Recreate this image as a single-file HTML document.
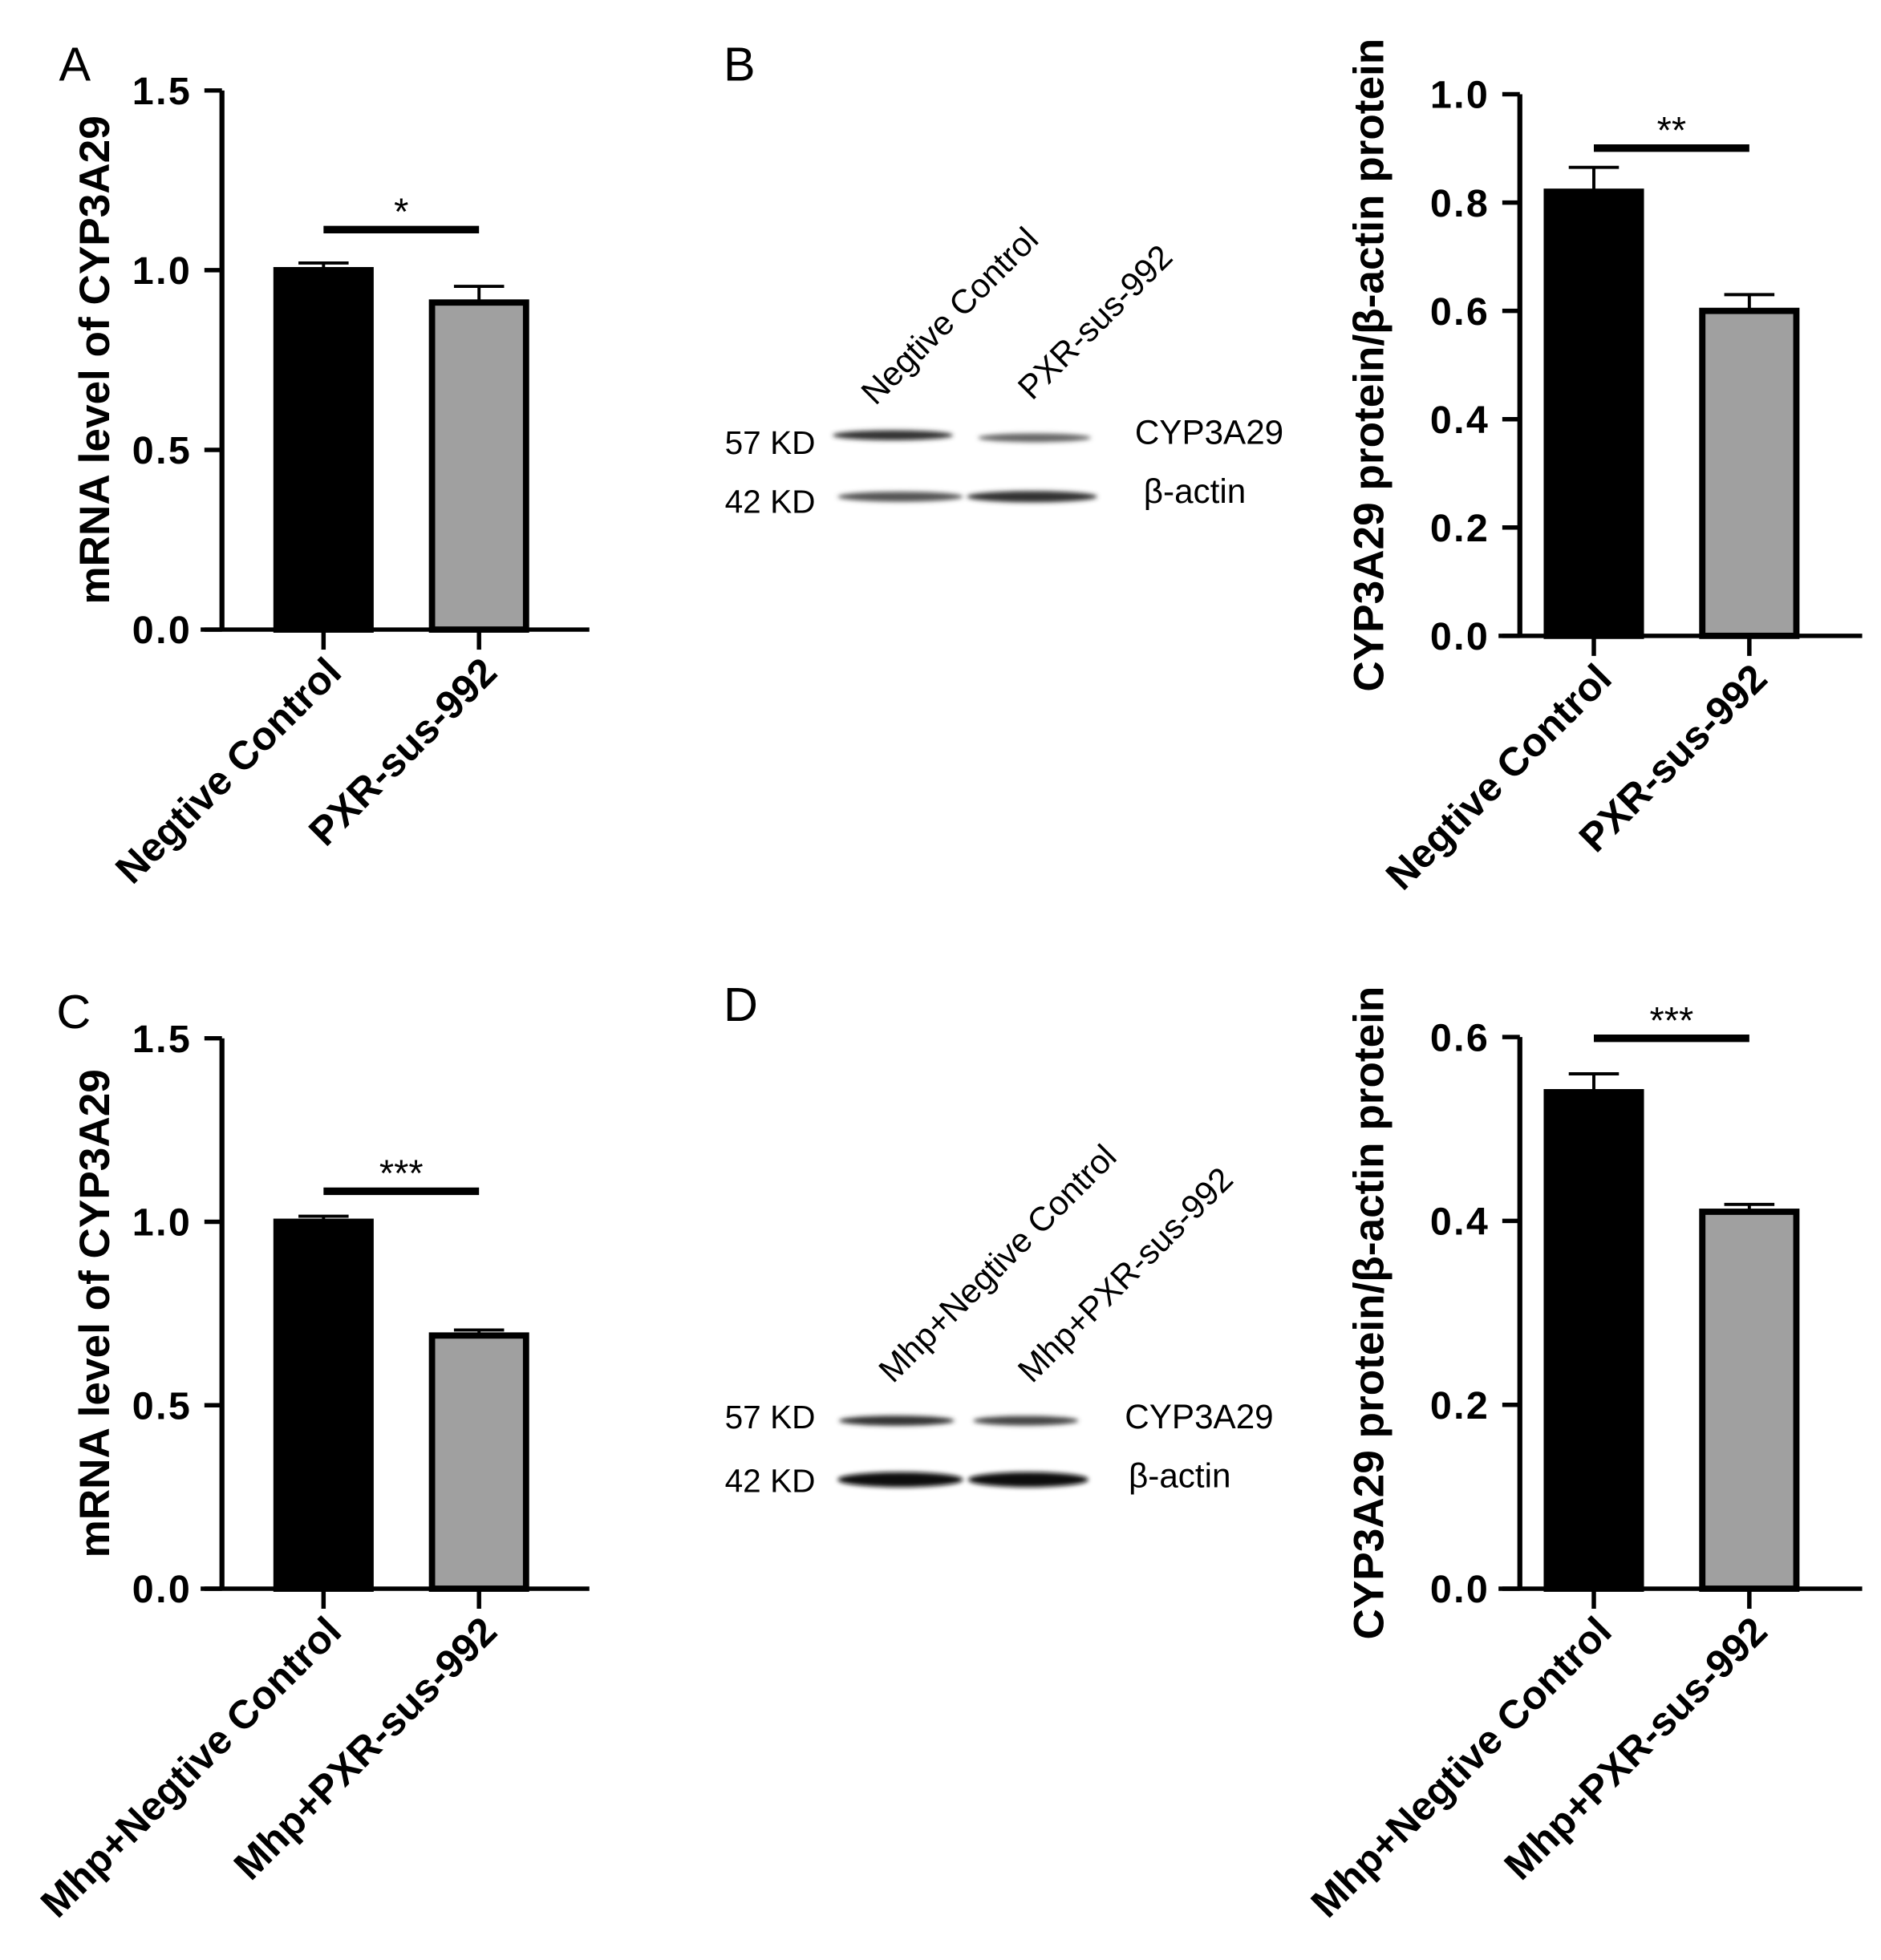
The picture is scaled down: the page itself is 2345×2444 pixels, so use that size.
<!DOCTYPE html>
<html><head><meta charset="utf-8"><style>
html,body{margin:0;padding:0;background:#fff}
svg{display:block}
text{font-family:"Liberation Sans",Arial,sans-serif}
</style></head><body>
<svg id="fig" width="2345" height="2444" viewBox="0 0 1500 1563" xmlns="http://www.w3.org/2000/svg">
<defs>
<filter id="blur" x="-10%" y="-100%" width="120%" height="300%"><feGaussianBlur stdDeviation="1.8"/></filter>
</defs>
<text x="47" y="64" font-size="38">A</text>
<text x="577" y="64" font-size="38">B</text>
<text x="45" y="820" font-size="38">C</text>
<text x="577" y="814" font-size="38">D</text>

<g>
<text x="578" y="362" font-size="26">57 KD</text>
<text x="578" y="409" font-size="26">42 KD</text>
<g filter="url(#blur)">
<ellipse cx="712" cy="347" rx="48" ry="4" fill="#333"/>
<ellipse cx="825" cy="349" rx="45" ry="3.5" fill="#666"/>
<ellipse cx="718" cy="396" rx="50" ry="4" fill="#555"/>
<ellipse cx="823" cy="396" rx="52" ry="4.5" fill="#333"/>
</g>
<text x="905" y="354" font-size="27">CYP3A29</text>
<text x="912" y="401" font-size="27">β-actin</text>
<text transform="translate(698,324) rotate(-45)" font-size="27">Negtive Control</text>
<text transform="translate(823,320) rotate(-45)" font-size="27">PXR-sus-992</text>
</g>

<g>
<text x="578" y="1139" font-size="26">57 KD</text>
<text x="578" y="1190" font-size="26">42 KD</text>
<g filter="url(#blur)">
<ellipse cx="715" cy="1133" rx="46" ry="4" fill="#333"/>
<ellipse cx="818" cy="1133" rx="42" ry="3.8" fill="#444"/>
<ellipse cx="718" cy="1180" rx="50" ry="6" fill="#111"/>
<ellipse cx="820" cy="1180" rx="48" ry="6" fill="#111"/>
</g>
<text x="897" y="1139" font-size="27">CYP3A29</text>
<text x="900" y="1186" font-size="27">β-actin</text>
<text transform="translate(712,1104) rotate(-45)" font-size="27">Mhp+Negtive Control</text>
<text transform="translate(823,1104) rotate(-45)" font-size="27">Mhp+PXR-sus-992</text>
</g>
</svg>
<script>
// Panel A
const catsA = ["Negtive Control", "PXR-sus-992"];
const valsA = [1.0, 0.91];
const errA = [0.02, 0.045];
const ticksA = [0.0, 0.5, 1.0, 1.5];
const tickLabelsA = ["0.0", "0.5", "1.0", "1.5"];
// Panel B
const catsB = ["Negtive Control", "PXR-sus-992"];
const valsB = [0.82, 0.60];
const errB = [0.045, 0.03];
const ticksB = [0.0, 0.2, 0.4, 0.6, 0.8, 1.0];
const tickLabelsB = ["0.0", "0.2", "0.4", "0.6", "0.8", "1.0"];
// Panel C
const catsC = ["Mhp+Negtive Control", "Mhp+PXR-sus-992"];
const valsC = [1.0, 0.69];
const errC = [0.015, 0.015];
const ticksC = [0.0, 0.5, 1.0, 1.5];
const tickLabelsC = ["0.0", "0.5", "1.0", "1.5"];
// Panel D
const catsD = ["Mhp+Negtive Control", "Mhp+PXR-sus-992"];
const valsD = [0.54, 0.41];
const errD = [0.02, 0.008];
const ticksD = [0.0, 0.2, 0.4, 0.6];
const tickLabelsD = ["0.0", "0.2", "0.4", "0.6"];

const NS = "http://www.w3.org/2000/svg";
const svg = document.getElementById("fig");
function mk(tag, attrs, parent) {
  const e = document.createElementNS(NS, tag);
  for (const k in attrs) e.setAttribute(k, attrs[k]);
  (parent || svg).appendChild(e);
  return e;
}

function chart(p, cats, vals, errs, ticks, tickLabels, sig, sigY, title, titleX, catSize) {
  const g = mk("g", {});
  
  
  const ymax = ticks[ticks.length - 1];
  const y = v => p.y0 - (v / ymax) * (p.y0 - p.yTop);
  const xc = i => p.xCat[i];
  const ya = mk("line", {x1: p.ax, y1: p.yTop, x2: p.ax, y2: p.y0 + 1.5, stroke: "#000", "stroke-width": 4}, g);
  
  
  ticks.forEach((t, i) => {
    const tl = mk("line", {x1: p.ax - 14, y1: y(t), x2: p.ax, y2: y(t), stroke: "#000", "stroke-width": 3.5}, g);
    
    
    const tx = mk("text", {x: p.ax - 24, y: y(t) + 11, "text-anchor": "end", "font-size": 31, "font-weight": "bold", "letter-spacing": 1.5}, g);
    tx.textContent = tickLabels[i];
    
    
  });
  const xa = mk("line", {x1: p.ax - 17, y1: p.y0, x2: p.xEnd, y2: p.y0, stroke: "#000", "stroke-width": 3.5}, g);
  
  
  const fills = ["#000", "#a0a0a0"];
  cats.forEach((c, i) => {
    const eb = mk("path", {d: `M${xc(i)},${y(vals[i])} V${y(vals[i] + errs[i])} M${xc(i) - 20},${y(vals[i] + errs[i])} H${xc(i) + 20}`, stroke: "#000", "stroke-width": 2.5, fill: "none"}, g);
    
    
    const b = mk("rect", {x: xc(i) - p.bw / 2 + 2.5, y: y(vals[i]), width: p.bw - 5, height: p.y0 - y(vals[i]), fill: fills[i], stroke: "#000", "stroke-width": 5}, g);
    
    
    const tk = mk("line", {x1: xc(i), y1: p.y0, x2: xc(i), y2: p.y0 + 16, stroke: "#000", "stroke-width": 3.5}, g);
    
    
    const lt = mk("text", {transform: `translate(${xc(i) + 16},${p.y0 + 36}) rotate(-45)`, "text-anchor": "end", "font-size": catSize, "font-weight": "bold"}, g);
    lt.textContent = c;
    
    
  });
  const sl = mk("line", {x1: xc(0), y1: sigY, x2: xc(1), y2: sigY, stroke: "#000", "stroke-width": 6}, g);
  
  
  const st = mk("text", {x: (xc(0) + xc(1)) / 2, y: sigY - 4, "text-anchor": "middle", "font-size": 30}, g);
  st.textContent = sig;
  
  
  const tt = mk("text", {transform: `translate(${titleX},${(p.yTop + p.y0) / 2}) rotate(-90)`, "text-anchor": "middle", "font-size": 34, "font-weight": "bold"}, g);
  tt.textContent = title;
  
  
}

chart({name: "chart-a", ax: 177, yTop: 72, y0: 502, xEnd: 470, xCat: [258, 382], bw: 80},
  catsA, valsA, errA, ticksA, tickLabelsA, "*", 183, "mRNA level of CYP3A29", 87, 32);
chart({name: "chart-b", ax: 1212, yTop: 75, y0: 507, xEnd: 1485, xCat: [1271, 1395], bw: 80},
  catsB, valsB, errB, ticksB, tickLabelsB, "**", 118, "CYP3A29 protein/β-actin protein", 1103, 32);
chart({name: "chart-c", ax: 177, yTop: 828, y0: 1267, xEnd: 470, xCat: [258, 382], bw: 80},
  catsC, valsC, errC, ticksC, tickLabelsC, "***", 950, "mRNA level of CYP3A29", 87, 32);
chart({name: "chart-d", ax: 1212, yTop: 827, y0: 1267, xEnd: 1485, xCat: [1271, 1395], bw: 80},
  catsD, valsD, errD, ticksD, tickLabelsD, "***", 828, "CYP3A29 protein/β-actin protein", 1103, 32);
</script>
</body></html>
